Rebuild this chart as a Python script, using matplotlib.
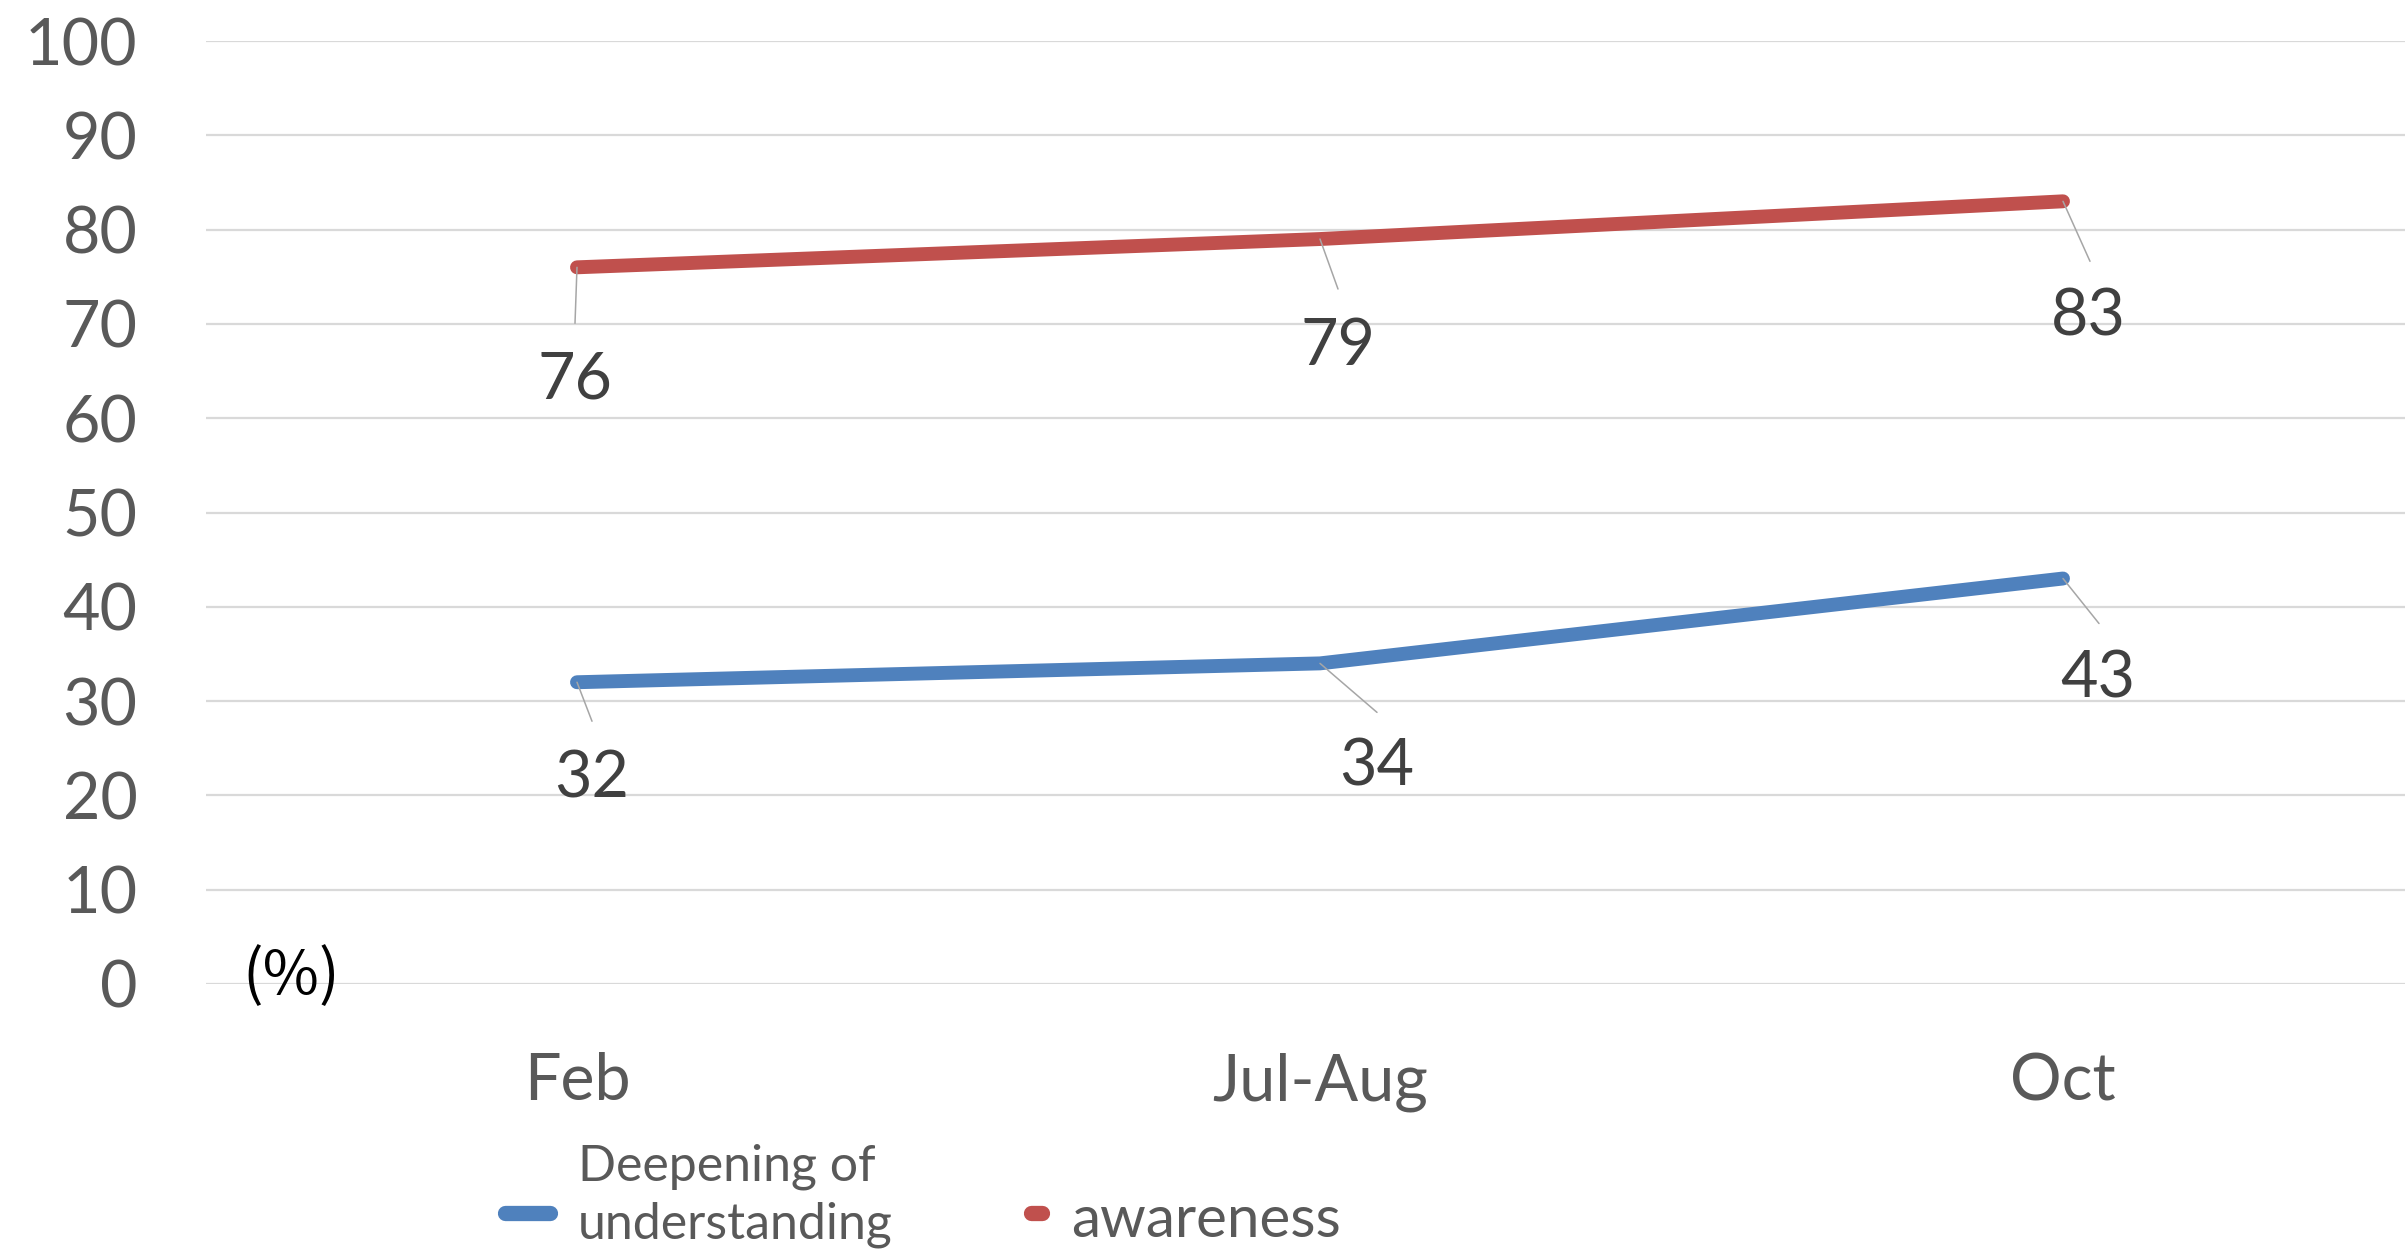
import matplotlib
matplotlib.use("Agg")
import matplotlib.pyplot as plt
from matplotlib.lines import Line2D

# ---- data ----
months = ["Feb", "Jul-Aug", "Oct"]
deepening = [32, 34, 43]
awareness = [76, 79, 83]
series_names = ["Deepening of\nunderstanding", "awareness"]
yticks = [0, 10, 20, 30, 40, 50, 60, 70, 80, 90, 100]

BLUE = "#4F81BD"
RED = "#C0504D"
W, H = 2405, 1249
FONT = "Lato"

fig = plt.figure(figsize=(W / 100, H / 100), dpi=100)
# axes in pixel coords: left 205.5, right 2434.5, bottom(y=0) 984, top(y=100) 41
ax = fig.add_axes([205.5 / W, (H - 984) / H, (2434.5 - 205.5) / W, (984 - 41) / H])

x = list(range(len(months)))
ax.plot(x, deepening, color=BLUE, lw=10, solid_capstyle="round", solid_joinstyle="round", zorder=3)
ax.plot(x, awareness, color=RED, lw=10, solid_capstyle="round", solid_joinstyle="round", zorder=3)

ax.set_xlim(-0.5, 2.5)
ax.set_ylim(0, 100)
ax.set_yticks(yticks)
ax.set_xticks(x)
ax.set_xticklabels(months)
ax.grid(axis="y", color="#D9D9D9", lw=1.6)
ax.set_axisbelow(True)
for s in ax.spines.values():
    s.set_visible(False)
ax.tick_params(axis="both", length=0, labelcolor="#595959", labelsize=46.5)
ax.tick_params(axis="y", pad=49)
ax.tick_params(axis="x", pad=49)
for lab in ax.get_xticklabels() + ax.get_yticklabels():
    lab.set_fontfamily(FONT)

# data labels with leader lines (offsets in pixels: leader end, label center)
blue_off = [((15, -39), (15, -97)), ((57, -49), (57, -104)), ((36, -45), (35, -100))]
red_off = [((-2, -56), (-2, -113)), ((18, -50), (18, -107)), ((27, -60), (25, -116))]
for vals, offs in ((deepening, blue_off), (awareness, red_off)):
    for i, v in enumerate(vals):
        (lx, ly), (tx, ty) = offs[i]
        ax.annotate("", xy=(i, v), xytext=(lx, ly), textcoords="offset pixels",
                    arrowprops=dict(arrowstyle="-", color="#A6A6A6", lw=1.1,
                                    shrinkA=0, shrinkB=0), zorder=4)
        ax.annotate(str(v), xy=(i, v), xytext=(tx, ty), textcoords="offset pixels",
                    ha="center", va="center", fontsize=46.5, color="#404040",
                    family=FONT, zorder=5)

# (%) unit label
fig.text(242 / W, 1 - 977 / H, "(%)", fontsize=44, color="black",
         family=["Noto Sans CJK JP", "DejaVu Sans"], ha="left", va="center")

# legend (manual, partly cut off at the bottom like the reference)
fig.add_artist(Line2D([(497 + 8) / W, (558 - 8) / W], [1 - 1213 / H] * 2, color=BLUE,
                      lw=11, solid_capstyle="round", transform=fig.transFigure))
fig.add_artist(Line2D([(1023 + 8) / W, (1050 - 8) / W], [1 - 1213 / H] * 2, color=RED,
                      lw=11, solid_capstyle="round", transform=fig.transFigure))
l1, l2 = series_names[0].split("\n")
fig.text(578 / W, 1 - 1181 / H, l1, fontsize=36, color="#595959", family=FONT,
         ha="left", va="baseline")
fig.text(578 / W, 1 - 1238 / H, l2, fontsize=36, color="#595959", family=FONT,
         ha="left", va="baseline")
fig.text(1071 / W, 1 - 1237 / H, series_names[1], fontsize=42, color="#595959",
         family=FONT, ha="left", va="baseline")

fig.savefig("out.png", dpi=100)
